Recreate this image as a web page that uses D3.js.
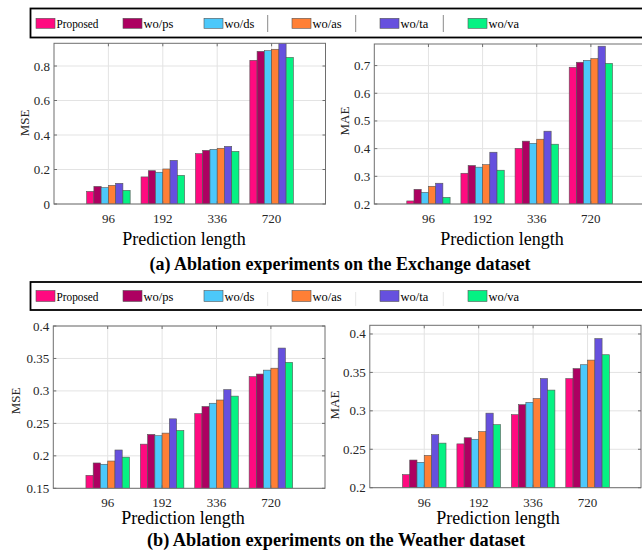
<!DOCTYPE html>
<html>
<head>
<meta charset="utf-8">
<script src="https://cdn.jsdelivr.net/npm/d3@7"></script>
<style>
  html, body { margin: 0; padding: 0; background: #fff; }
  svg { display: block; font-family: "Liberation Serif", "Times New Roman", serif; }
</style>
</head>
<body>
<svg id="chart" width="642" height="552"></svg>
<script>
// ---------------- DATA ----------------
const categories = ["96", "192", "336", "720"];
const seriesNames = ["Proposed", "wo/ps", "wo/ds", "wo/as", "wo/ta", "wo/va"];
const seriesColors = ["#ff0a80", "#ad0061", "#4cc8fa", "#ff7f35", "#6650de", "#05f283"];

// rows = prediction length, columns = series (same order as seriesNames)
const exchangeMSE = [
  [0.073, 0.102, 0.095, 0.108, 0.120, 0.079],
  [0.157, 0.193, 0.184, 0.203, 0.253, 0.166],
  [0.292, 0.311, 0.317, 0.323, 0.334, 0.305],
  [0.833, 0.885, 0.889, 0.897, 0.940, 0.850]
];
const exchangeMAE = [
  [0.211, 0.253, 0.242, 0.264, 0.275, 0.224],
  [0.311, 0.339, 0.333, 0.342, 0.387, 0.322],
  [0.401, 0.427, 0.419, 0.434, 0.463, 0.416],
  [0.694, 0.712, 0.719, 0.725, 0.770, 0.708]
];
const weatherMSE = [
  [0.170, 0.189, 0.187, 0.192, 0.209, 0.198],
  [0.218, 0.233, 0.231, 0.235, 0.257, 0.239],
  [0.265, 0.276, 0.281, 0.286, 0.302, 0.292],
  [0.322, 0.326, 0.332, 0.335, 0.366, 0.344]
];
const weatherMAE = [
  [0.217, 0.236, 0.233, 0.242, 0.269, 0.258],
  [0.257, 0.265, 0.263, 0.273, 0.297, 0.282],
  [0.295, 0.308, 0.311, 0.316, 0.342, 0.327],
  [0.342, 0.355, 0.360, 0.366, 0.394, 0.373]
];

const exchangeMSETicks = [0, 0.2, 0.4, 0.6, 0.8];
const exchangeMAETicks = [0.2, 0.3, 0.4, 0.5, 0.6, 0.7];
const weatherMSETicks = [0.15, 0.2, 0.25, 0.3, 0.35, 0.4];
const weatherMAETicks = [0.2, 0.25, 0.3, 0.35, 0.4];

const xAxisTitle = "Prediction length";
const captionA = "(a) Ablation experiments on the Exchange dataset";
const captionB = "(b) Ablation experiments on the Weather dataset";

// ---------------- LAYOUT ----------------
const svg = d3.select("#chart");
const axisColor = "#6e6e6e";
const gridColor = "#e3e3e3";
const textColor = "#262626";

const panels = [
  { data: exchangeMSE, ticks: exchangeMSETicks, domain: [0, 0.9316], label: "MSE",
    xr: [54, 326], boxR: 325.5, yr: [204, 43.3], ylab: [24, 123], xtY: 218, xlab: [184, 245] },
  { data: exchangeMAE, ticks: exchangeMAETicks, domain: [0.2, 0.778], label: "MAE",
    xr: [374.3, 645], boxR: 645, yr: [204, 44], ylab: [344, 121], xtY: 218, xlab: [502, 245] },
  { data: weatherMSE, ticks: weatherMSETicks, domain: [0.15, 0.4], label: "MSE",
    xr: [53.3, 325.3], boxR: 325, yr: [488.3, 326], ylab: [15, 401], xtY: 502, xlab: [183, 524] },
  { data: weatherMAE, ticks: weatherMAETicks, domain: [0.2, 0.4113], label: "MAE",
    xr: [369.8, 642], boxR: 641, yr: [487.7, 325.3], ylab: [334, 405], xtY: 502, xlab: [498, 524] }
];

const groupWidth = 0.8;
const nSer = seriesNames.length;

panels.forEach((p, pi) => {
  const x = d3.scaleLinear().domain([0, 5]).range(p.xr);
  const y = d3.scaleLinear().domain(p.domain).range(p.yr);
  const g = svg.append("g");
  const left = p.xr[0], right = p.boxR, bottom = p.yr[0], top = p.yr[1];

  const clipId = "clip" + pi;
  svg.append("clipPath").attr("id", clipId)
    .append("rect").attr("x", left).attr("y", top).attr("width", right - left).attr("height", bottom - top);

  // grid
  g.selectAll(".gy").data(p.ticks).join("line")
    .attr("x1", left).attr("x2", right)
    .attr("y1", d => y(d)).attr("y2", d => y(d))
    .attr("stroke", gridColor).attr("stroke-width", 1);
  g.selectAll(".gx").data(categories).join("line")
    .attr("x1", (d, i) => x(i + 1)).attr("x2", (d, i) => x(i + 1))
    .attr("y1", top).attr("y2", bottom)
    .attr("stroke", gridColor).attr("stroke-width", 1);

  // bars
  const bw = groupWidth / nSer;
  const barG = g.append("g").attr("clip-path", `url(#${clipId})`);
  p.data.forEach((row, ci) => {
    row.forEach((v, si) => {
      const x0 = (ci + 1) - groupWidth / 2 + si * bw;
      barG.append("rect")
        .attr("x", x(x0)).attr("width", x(x0 + bw) - x(x0))
        .attr("y", y(v)).attr("height", y(p.domain[0]) - y(v))
        .attr("fill", seriesColors[si])
        .attr("stroke", "#555").attr("stroke-width", 0.6);
    });
  });

  // box
  g.append("rect").attr("x", left).attr("y", top).attr("width", right - left).attr("height", bottom - top)
    .attr("fill", "none").attr("stroke", axisColor).attr("stroke-width", 1);

  // ticks (inside, both sides)
  const tl = 3;
  p.ticks.forEach(t => {
    g.append("line").attr("x1", left).attr("x2", left + tl).attr("y1", y(t)).attr("y2", y(t)).attr("stroke", axisColor);
    g.append("line").attr("x1", right).attr("x2", right - tl).attr("y1", y(t)).attr("y2", y(t)).attr("stroke", axisColor);
  });
  categories.forEach((c, i) => {
    g.append("line").attr("x1", x(i + 1)).attr("x2", x(i + 1)).attr("y1", bottom).attr("y2", bottom - tl).attr("stroke", axisColor);
    g.append("line").attr("x1", x(i + 1)).attr("x2", x(i + 1)).attr("y1", top).attr("y2", top + tl).attr("stroke", axisColor);
  });

  // y tick labels
  g.selectAll(".yl").data(p.ticks).join("text")
    .attr("x", left - 4).attr("y", d => y(d))
    .attr("text-anchor", "end").attr("dominant-baseline", "central")
    .attr("font-size", 13).attr("fill", textColor)
    .text(d => String(d));
  // x tick labels
  g.selectAll(".xl").data(categories).join("text")
    .attr("x", (d, i) => x(i + 1)).attr("y", p.xtY)
    .attr("text-anchor", "middle").attr("dominant-baseline", "central")
    .attr("font-size", 13).attr("fill", textColor)
    .text(d => d);

  // axis labels
  g.append("text")
    .attr("transform", `translate(${p.ylab[0]},${p.ylab[1]}) rotate(-90)`)
    .attr("text-anchor", "middle").attr("dominant-baseline", "central")
    .attr("font-size", 13).attr("fill", textColor)
    .text(p.label);
  g.append("text")
    .attr("x", p.xlab[0]).attr("y", p.xlab[1])
    .attr("text-anchor", "middle")
    .attr("font-size", 18).attr("fill", "#000")
    .text(xAxisTitle);
});

// captions
svg.append("text").attr("x", 340).attr("y", 270).attr("text-anchor", "middle")
  .attr("font-size", 18).attr("font-weight", "bold").text(captionA);
svg.append("text").attr("x", 336).attr("y", 546).attr("text-anchor", "middle")
  .attr("font-size", 18.3).attr("font-weight", "bold").text(captionB);

// legends
const legendSwatchX = [36, 123, 204, 292, 380, 468];
const legends = [
  { y0: 8.5, y1: 37.5, swY: 18.3, swH: 10, textY: 27.7, sepColor: "#8a8a8a", sepY: [15, 32] },
  { y0: 282, y1: 310, swY: 290.5, swH: 11, textY: 300.7, sepColor: "#e6e6e6", sepY: [292, 306] }
];
const sepX = [267.7, 355.7, 443.3];
legends.forEach(L => {
  const lg = svg.append("g");
  lg.append("rect").attr("x", 30.5).attr("y", L.y0).attr("width", 640).attr("height", L.y1 - L.y0)
    .attr("fill", "#fff").attr("stroke", "#000").attr("stroke-width", 1.8);
  sepX.forEach(sx => {
    lg.append("line").attr("x1", sx).attr("x2", sx).attr("y1", L.sepY[0]).attr("y2", L.sepY[1])
      .attr("stroke", L.sepColor).attr("stroke-width", 1);
  });
  seriesNames.forEach((name, i) => {
    lg.append("rect").attr("x", legendSwatchX[i]).attr("y", L.swY).attr("width", 19).attr("height", L.swH)
      .attr("fill", seriesColors[i]).attr("stroke", "#555").attr("stroke-width", 0.6);
    const t = lg.append("text").attr("x", legendSwatchX[i] + 20.5).attr("y", L.textY)
      .attr("font-size", 12.5).attr("fill", "#000").text(name);
    if (name === "Proposed") t.attr("textLength", 42).attr("lengthAdjust", "spacingAndGlyphs");
  });
});
</script>
</body>
</html>
